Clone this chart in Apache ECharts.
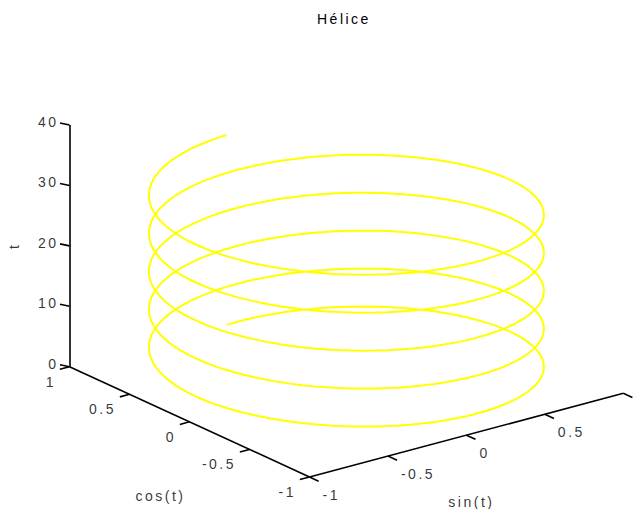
<!DOCTYPE html>
<html>
<head>
<meta charset="utf-8">
<title>Hélice</title>
<script src="https://cdn.jsdelivr.net/npm/echarts@6/dist/echarts.min.js"></script>
<style>
  html, body { margin: 0; padding: 0; background: #fff; }
  #chart { width: 636px; height: 509px; }
  /* wide tracking on every label, as in the original figure */
  #chart text { letter-spacing: 2.5px; }
</style>
</head>
<body>
<div id="chart"></div>
<script>
// Helix parameter: t = 0 : pi/50 : 10*pi, plotted as (sin t, cos t, t)
const tStart = 0;
const tStep = Math.PI / 50;
const tCount = 501;
const tValues = [];
for (let i = 0; i < tCount; i++) tValues.push(tStart + i * tStep);
const sinValues = tValues.map(Math.sin);
const cosValues = tValues.map(Math.cos);

// Axis ticks and labels
const sinTicks = [-1, -0.5, 0, 0.5, 1];
const cosTicks = [-1, -0.5, 0, 0.5, 1];
const zTicks = [0, 10, 20, 30, 40];
const titleText = 'Hélice';
const sinTitle = 'sin(t)';
const cosTitle = 'cos(t)';
const zTitle = 't';

// Data ranges of the 3-D box
const xRange = [-1, 1];
const yRange = [-1, 1];
const zRange = [0, 40];

// Screen projection of the box (az -37.5, el 30 view): the corner at
// (xmin, ymin, zmin) and the screen vectors spanned by each full axis.
const W = 636, H = 509;
const boxCorner = [309.5, 477];
const xSpanVec = [313.8, -83.7];
const ySpanVec = [-240, -110.3];
const zSpanVec = [0, -241.7];

function project(x, y, z) {
  const u = (x - xRange[0]) / (xRange[1] - xRange[0]);
  const v = (y - yRange[0]) / (yRange[1] - yRange[0]);
  const w = (z - zRange[0]) / (zRange[1] - zRange[0]);
  return [
    boxCorner[0] + u * xSpanVec[0] + v * ySpanVec[0] + w * zSpanVec[0],
    boxCorner[1] + u * xSpanVec[1] + v * ySpanVec[1] + w * zSpanVec[1]
  ];
}
function unit(vec, len) {
  const n = Math.hypot(vec[0], vec[1]);
  return [vec[0] / n * len, vec[1] / n * len];
}

// Helix polyline
const helixPts = tValues.map((t, i) => project(sinValues[i], cosValues[i], t));

// Axis lines and tick marks
const tickLen = 10;
const sinTickDir = unit([-ySpanVec[0], -ySpanVec[1]], tickLen);
const cosTickDir = unit([-xSpanVec[0], -xSpanVec[1]], tickLen);
const zTickDir = [-9.5, -2];

const segs = [];
segs.push([project(xRange[0], yRange[0], zRange[0]), project(xRange[1], yRange[0], zRange[0])]);
segs.push([project(xRange[0], yRange[0], zRange[0]), project(xRange[0], yRange[1], zRange[0])]);
segs.push([project(xRange[0], yRange[1], zRange[0]), project(xRange[0], yRange[1], zRange[1])]);

const sinLabels = [], cosLabels = [], zLabels = [];
sinTicks.forEach(v => {
  const p = project(v, yRange[0], zRange[0]);
  segs.push([p, [p[0] + sinTickDir[0], p[1] + sinTickDir[1]]]);
  sinLabels.push({ name: String(v), value: [p[0] + 13, p[1] + 17.5] });
});
cosTicks.forEach(v => {
  const p = project(xRange[0], v, zRange[0]);
  segs.push([p, [p[0] + cosTickDir[0], p[1] + cosTickDir[1]]]);
  cosLabels.push({ name: String(v), value: [p[0] - 13.5, p[1] + 15] });
});
zTicks.forEach(v => {
  const p = project(xRange[0], yRange[1], v);
  segs.push([p, [p[0] + zTickDir[0], p[1] + zTickDir[1]]]);
  zLabels.push({ name: String(v), value: [p[0] - 11, p[1] - 3] });
});

// Axis titles placed off the middle of each axis
const sinMid = project((xRange[0] + xRange[1]) / 2, yRange[0], zRange[0]);
const cosMid = project(xRange[0], (yRange[0] + yRange[1]) / 2, zRange[0]);
const zMid = project(xRange[0], yRange[1], (zRange[0] + zRange[1]) / 2);
const titleLabels = [
  { name: sinTitle, value: [sinMid[0] + 5, sinMid[1] + 67], rot: 0 },
  { name: cosTitle, value: [cosMid[0] - 29, cosMid[1] + 74], rot: 0 },
  { name: zTitle, value: [zMid[0] - 56, zMid[1]], rot: 90 }
];

const FONT = "'Liberation Sans', Arial, Helvetica, sans-serif";
const textBase = { color: '#000', fontSize: 14, fontFamily: FONT };

// Text-only scatter: an invisible 1px symbol carrying a label
function labelSeries(data, align) {
  return {
    type: 'scatter',
    symbolSize: 1,
    silent: true,
    data: data,
    itemStyle: { color: 'rgba(0,0,0,0)' },
    label: Object.assign({
      show: true,
      position: 'inside',
      formatter: '{b}',
      align: align,
      verticalAlign: 'middle'
    }, textBase)
  };
}

const chart = echarts.init(document.getElementById('chart'), null, { renderer: 'svg', width: W, height: H });
chart.setOption({
  backgroundColor: '#fff',
  animation: false,
  title: {
    text: titleText,
    left: 317,
    top: 12,
    padding: 0,
    textStyle: { color: '#000', fontSize: 14, fontWeight: 'normal', fontFamily: FONT }
  },
  grid: { left: 0, right: 0, top: 0, bottom: 0 },
  xAxis: { type: 'value', min: 0, max: W, show: false },
  yAxis: { type: 'value', min: 0, max: H, inverse: true, show: false },
  series: [
    {
      type: 'lines',
      coordinateSystem: 'cartesian2d',
      silent: true,
      data: segs.map(s => ({ coords: s })),
      lineStyle: { color: '#000', width: 1.6, opacity: 1 }
    },
    {
      type: 'line',
      data: helixPts,
      showSymbol: false,
      silent: true,
      lineStyle: { color: '#ffff00', width: 2 }
    },
    labelSeries(sinLabels, 'left'),
    labelSeries(cosLabels, 'right'),
    labelSeries(zLabels, 'right'),
    {
      type: 'scatter',
      symbolSize: 1,
      silent: true,
      itemStyle: { color: 'rgba(0,0,0,0)' },
      data: titleLabels.map(d => ({
        name: d.name,
        value: d.value,
        label: { rotate: d.rot }
      })),
      label: Object.assign({
        show: true,
        position: 'inside',
        formatter: '{b}',
        align: 'center',
        verticalAlign: 'middle'
      }, textBase)
    }
  ]
});
</script>
</body>
</html>
